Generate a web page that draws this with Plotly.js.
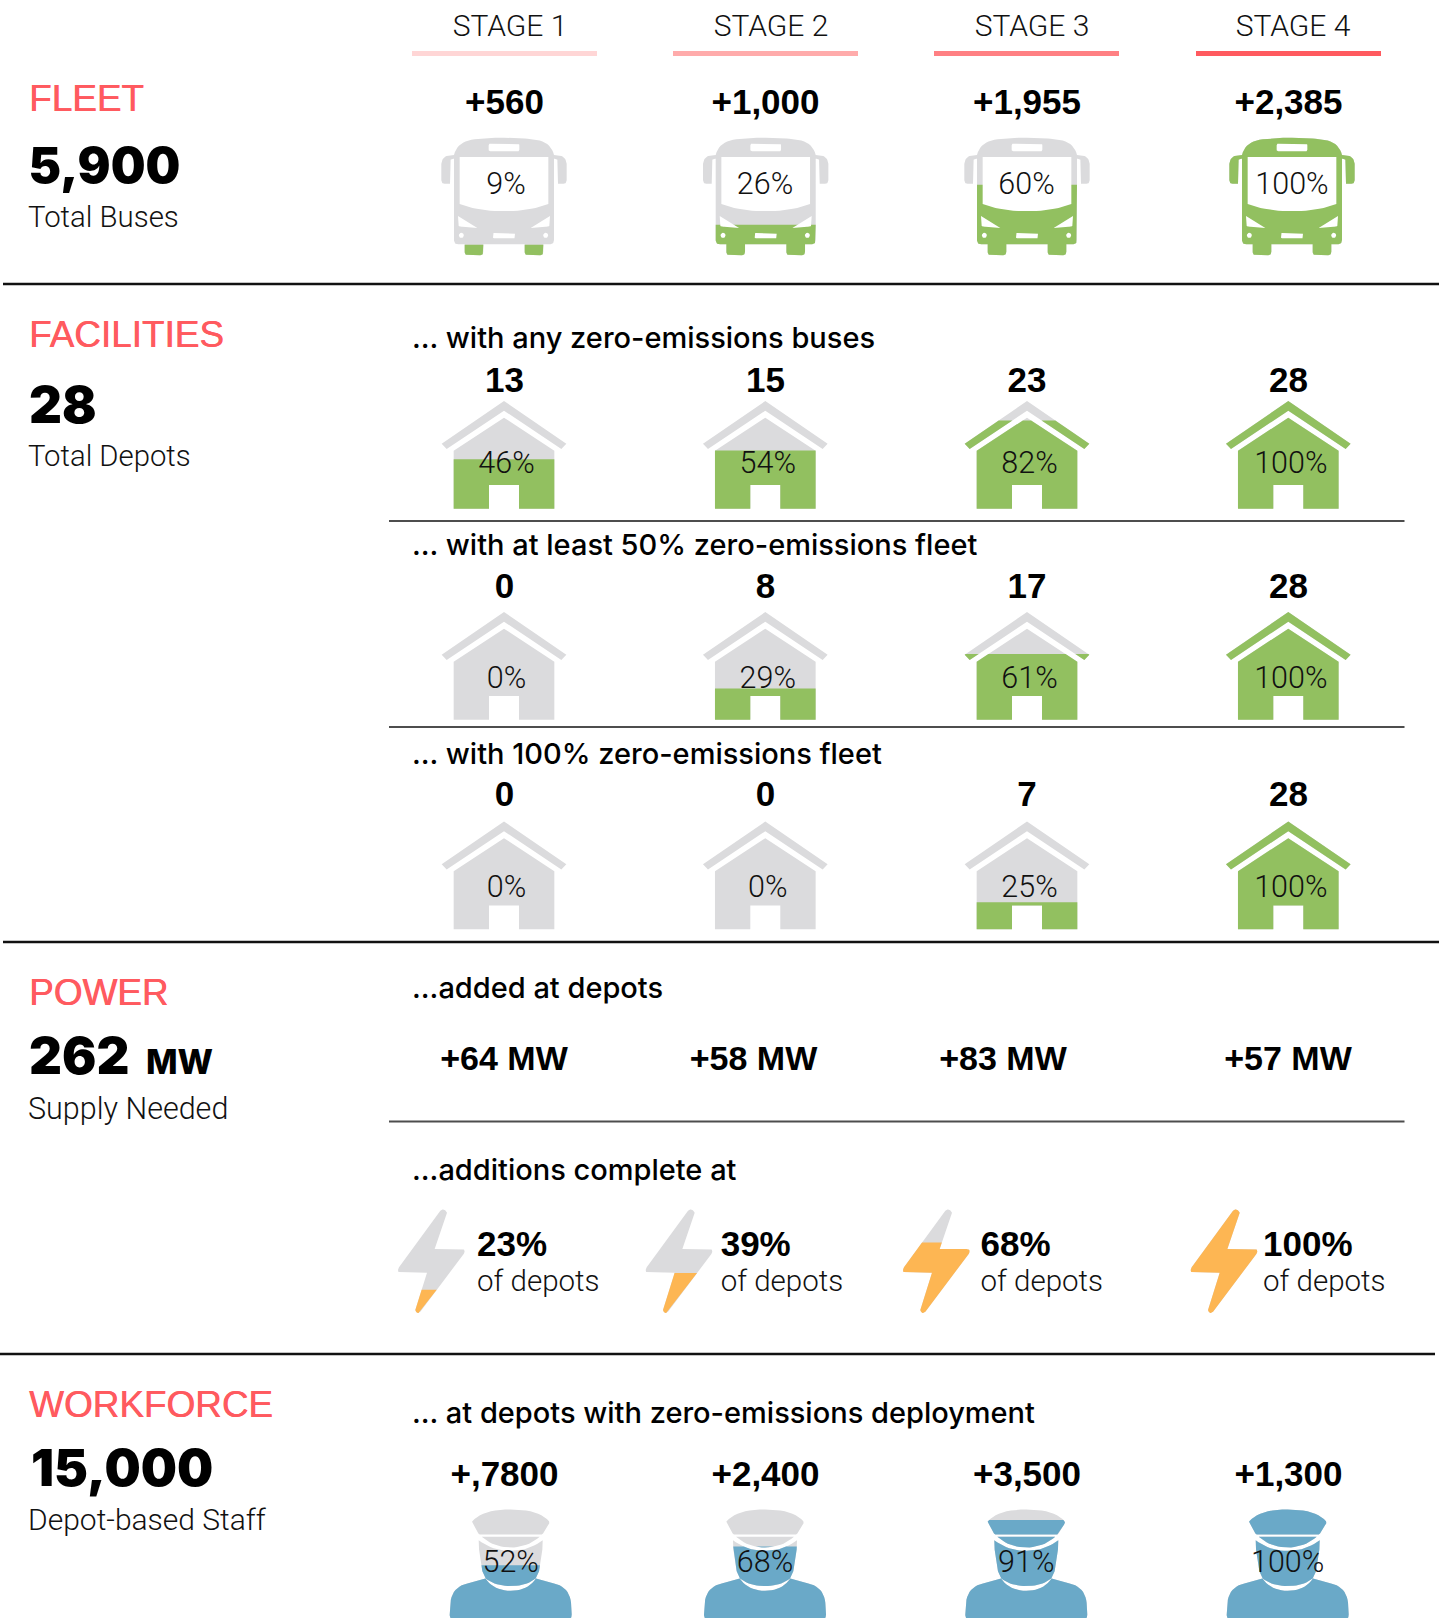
<!DOCTYPE html>
<html><head><meta charset="utf-8">
<script src="https://cdn.plot.ly/plotly-3.0.1.min.js"></script>
<style>html,body{margin:0;padding:0;background:#fff}#c{width:1454px;height:1618px}</style>
</head><body><div id="c"></div>
<script>
// ---------- data ----------
const stages = ['STAGE 1','STAGE 2','STAGE 3','STAGE 4'];
const fleetAdded = ['+560','+1,000','+1,955','+2,385'];
const fleetPct = [9,26,60,100];
const depotAnyCount = [13,15,23,28];
const depotAnyPct = [46,54,82,100];
const depot50Count = [0,8,17,28];
const depot50Pct = [0,29,61,100];
const depot100Count = [0,0,7,28];
const depot100Pct = [0,0,25,100];
const powerAdded = ['+64 MW','+58 MW','+83 MW','+57 MW'];
const powerPct = [23,39,68,100];
const workforceAdded = ['+,7800','+2,400','+3,500','+1,300'];
const workforcePct = [52,68,91,100];

// ---------- styles ----------
const GRAY='#DBDBDD', GREEN='#92C060', ORANGE='#FDB653', BLUE='#6AA9C8', RED='#FF5A5F';
const stageColors=['#FFD6D6','#FFABAB','#FF8083','#FF5A5F'];
const LIGHT={family:'Roboto, sans-serif',weight:300,color:'#111'};
const BOLD={family:'"Liberation Sans", Arial, sans-serif',weight:700,color:'#000'};
const MED={family:'"Liberation Sans", Arial, sans-serif',weight:400,color:RED,shadow:'0.6px 0 0 '+RED};
const SUB={family:'Inter, sans-serif',weight:500,color:'#000'};
const HEAVY={family:'Inter, sans-serif',weight:900,color:'#000'};
const HEAVY2={family:'Inter, sans-serif',weight:800,color:'#000'};

// ---------- icon outlines (3x local units; third item 1 = curve control point) ----------
function sym(h){const m=h.slice().reverse().map(p=>p[2]?[-p[0],p[1],1]:[-p[0],p[1]]);return h.concat(m);}
function flip(h){return h.map(p=>p[2]?[-p[0],p[1],1]:[-p[0],p[1]]);}
function flat(pts){const o=[];for(let i=0;i<pts.length;i++){const p=pts[i];
  if(p[2]){const a=o[o.length-1],b=pts[(i+1)%pts.length];for(let t=.1;t<.95;t+=.1){o.push([(1-t)*(1-t)*a[0]+2*t*(1-t)*p[0]+t*t*b[0],(1-t)*(1-t)*a[1]+2*t*(1-t)*p[1]+t*t*b[1]]);}}
  else o.push([p[0],p[1]]);}return o;}
function rrect(x0,x1,y0,y1,r){return [[x0+r,y0],[x1-r,y0],[x1,y0,1],[x1,y0+r],[x1,y1-r],[x1,y1,1],[x1-r,y1],[x0+r,y1],[x0,y1,1],[x0,y1-r],[x0,y0+r],[x0,y0,1]];}
function circ(cx,cy,r){const a=[];for(let i=0;i<16;i++){a.push([cx+r*Math.cos(i*Math.PI/8),cy+r*Math.sin(i*Math.PI/8)]);}return a;}

const mirrorR=[[150,52],[165,53],[185,55,1],[188,78],[188,128],[188,138,1],[178,138],[162,138],[162,72],[162,63,1],[150,63]];
const lampR=[[138,235],[138,262],[136,268,1],[124,267],[80,271]];
const busIcon={h:353,solid:[sym([[0,0],[45,0,1],[88,5],[140,10,1],[150,52],[150,307],[150,320,1],[137,320],[118,320],[118,342],[118,353,1],[107,353],[73,353],[62,353,1],[62,342],[62,320],[0,320]]),mirrorR,flip(mirrorR)],
 holes:[sym([[0,58],[133,58],[133,199],[70,222,1],[0,220]]),rrect(-46,46,18,41,5),rrect(-33,33,286,302,3),circ(-128,293,7.5),circ(125,293,7.5),lampR,flip(lampR)]};
const houseIcon={h:323,solid:[sym([[0,0],[187,128],[172,144],[0,29]]),sym([[0,50],[151,149],[151,323],[45,323],[45,252],[0,252]])],holes:[]};
const boltIcon={h:315,solid:[[[127,5],[138,-5,1],[147,11],[110,120],[190,120],[205,120,1],[197,135],[67,308],[57,318,1],[52,303],[87,191],[8,191],[-5,190,1],[3,175]]],holes:[]};
const personIcon={h:348,solid:[sym([[0,0],[85,0,1],[115,35],[118,40,1],[112,47],[97,72],[93,75],[0,75]]),sym([[0,82],[87,82],[50,114,1],[0,114]]),sym([[0,124],[55,124,1],[96,92],[95,120],[85,185],[75,207],[45,230,1],[0,230]]),sym([[0,244],[50,244,1],[76,207],[130,222],[176,232,1],[181,280],[183,315],[184,328,1],[173,328],[0,328]])],holes:[]};

// ---------- drawing helpers: everything goes through Plotly's x/y axes ----------
const traces=[], textTraces=[];
function clipBelow(poly,lv){const o=[];for(let i=0;i<poly.length;i++){const a=poly[i],b=poly[(i+1)%poly.length];const ai=a[1]>=lv,bi=b[1]>=lv;
  if(ai)o.push(a);if(ai!==bi){const t=(lv-a[1])/(b[1]-a[1]);o.push([a[0]+t*(b[0]-a[0]),lv]);}}return o;}
function polyTrace(polys,color){const x=[],y=[];polys.forEach(p=>{if(p.length<3)return;p.forEach(q=>{x.push(q[0]);y.push(q[1]);});x.push(p[0][0]);y.push(p[0][1]);x.push(null);y.push(null);});
  if(!x.length)return;x.pop();y.pop();
  traces.push({type:'scatter',mode:'lines',x,y,fill:'toself',fillcolor:color,line:{width:0,color:color},hoverinfo:'skip'});}
function icon(ic,cx,top,pct,color,H){
  const px=ps=>flat(ps).map(q=>[cx+q[0]/3,top+q[1]/3]);
  const solids=ic.solid.map(px),holes=ic.holes.map(px);
  const height=H||ic.h/3, lv=top+(1-pct/100)*height;
  polyTrace(solids,GRAY);
  if(pct>0)polyTrace(solids.map(p=>clipBelow(p,lv)),color);
  if(holes.length)polyTrace(holes,'#ffffff');
}
function rule(x0,x1,y,w,color){traces.push({type:'scatter',mode:'lines',x:[x0,x1],y:[y,y],line:{width:w,color},hoverinfo:'skip'});}
function T(text,x,base,size,st,anchor){
  const f={family:st.family,weight:st.weight,color:st.color,size};
  if(st.shadow)f.shadow=st.shadow;
  textTraces.push({type:'scatter',mode:'text',x:[x],y:[base-0.25*size],text:[String(text)],
    textposition:anchor==='l'?'middle right':'middle center',cliponaxis:false,hoverinfo:'skip',textfont:f});
}

// ---------- layout of the sheet ----------
const colX=[504.5,765.5,1027,1288.5];
const stageTextX=[510,771,1032,1293];
const barX=[412,673,934,1196];
stages.forEach((s,i)=>{T(s,stageTextX[i],36,30,LIGHT);rule(barX[i],barX[i]+185,53.5,5,stageColors[i]);});

// rules
rule(3,1439,284,2.4,'#111');rule(3,1439,942,2.4,'#111');rule(0,1435,1354,2.4,'#111');
rule(389,1404.5,521,2.2,'#4d4d4d');rule(389,1404.5,727,2.2,'#4d4d4d');rule(389,1404.5,1121.5,2.2,'#4d4d4d');

// left column
T('FLEET',29,111,36.9,MED,'l');T('5,900',28.5,183,49,HEAVY,'l');T('Total Buses',28,227.5,29.4,LIGHT,'l');
T('FACILITIES',29,347.5,36.9,MED,'l');T('28',29,422.5,51,HEAVY,'l');T('Total Depots',28,466,29.3,LIGHT,'l');
T('POWER',29,1005,36.9,MED,'l');T('262',29,1074,51,HEAVY,'l');T('MW',146,1074,33.5,HEAVY2,'l');T('Supply Needed',28,1119,30.5,LIGHT,'l');
T('WORKFORCE',29,1417.5,36.9,MED,'l');T('15,000',31,1486,51,HEAVY,'l');T('Depot-based Staff',28,1530,30,LIGHT,'l');

// fleet
const busX=[504,765.7,1027,1292];
const busTextX=[506,765,1026.5,1292];
fleetPct.forEach((p,i)=>{icon(busIcon,busX[i],137.7,p,GREEN);T(p+'%',busTextX[i],194,30.5,LIGHT);T(fleetAdded[i],colX[i],114,35,BOLD);});

// facilities
const houseX=[504,765.3,1027,1288.3];
[[depotAnyCount,depotAnyPct,401,392,473],[depot50Count,depot50Pct,612,598,688],[depot100Count,depot100Pct,821.5,805.5,897]].forEach(r=>{
  r[1].forEach((p,i)=>{icon(houseIcon,houseX[i],r[2],p,GREEN);T(p+'%',houseX[i]+2.5,r[4],30.5,LIGHT);T(r[0][i],colX[i],r[3],35,BOLD);});
});
T('... with any zero-emissions buses',412,348,29,SUB,'l');
T('... with at least 50% zero-emissions fleet',412,555,29,SUB,'l');
T('... with 100% zero-emissions fleet',412,763.5,29,SUB,'l');

// power
const mwX=[504,753.5,1003,1288];
T('...added at depots',412,998,29,SUB,'l');
powerAdded.forEach((v,i)=>T(v,mwX[i],1070,34,BOLD));
T('...additions complete at',412,1180,29,SUB,'l');
const boltX=[398,645.7,903,1190.7], ptX=[477,720.7,980.5,1263];
powerPct.forEach((p,i)=>{icon(boltIcon,boltX[i],1209,p,ORANGE);T(p+'%',ptX[i],1256,35,BOLD,'l');T('of depots',ptX[i],1291,29.5,LIGHT,'l');});

// workforce
T('... at depots with zero-emissions deployment',412,1423,29,SUB,'l');
const persX=[510.7,765,1026.3,1287.7];
workforcePct.forEach((p,i)=>{icon(personIcon,persX[i],1509.5,p,BLUE,116);T(p+'%',persX[i],1571.7,30.5,LIGHT);T(workforceAdded[i],colX[i],1485.7,35,BOLD);});

Plotly.newPlot('c',traces.concat(textTraces),{
  width:1454,height:1618,margin:{l:0,r:0,t:0,b:0},showlegend:false,paper_bgcolor:'#fff',plot_bgcolor:'#fff',hovermode:false,
  xaxis:{range:[0,1454],visible:false,fixedrange:true},
  yaxis:{range:[1618,0],visible:false,fixedrange:true}
},{displayModeBar:false,staticPlot:true});
</script></body></html>
